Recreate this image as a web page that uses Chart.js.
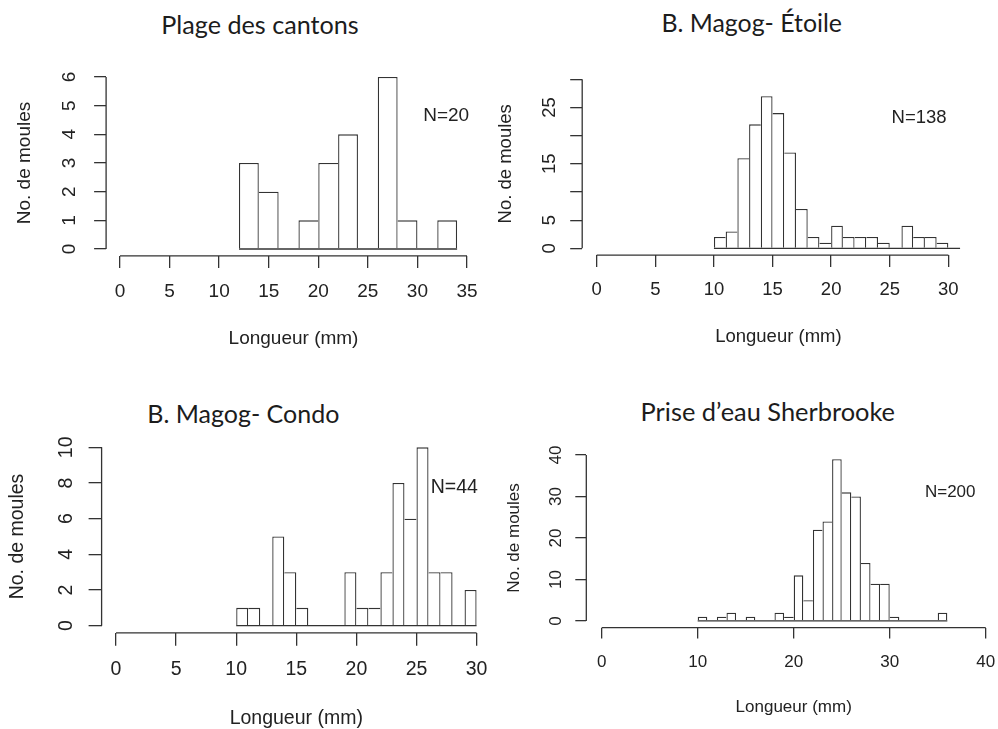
<!DOCTYPE html>
<html>
<head>
<meta charset="utf-8">
<script src="https://cdn.jsdelivr.net/npm/chart.js@4.4.0/dist/chart.umd.min.js"></script>
<style>
    html, body { margin: 0; padding: 0; background: #fff; width: 998px; height: 729px; overflow: hidden; }
    canvas { position: absolute; }
    .titre {
        position: absolute;
        font-family: Lato, "Open Sans", sans-serif;
        font-weight: 400;
        color: #1c1c1c;
        white-space: nowrap;
        line-height: 1;
        transform: translateX(-50%);
    }
</style>
</head>
<body>
<div class="titre" id="t1">Plage des cantons</div>
<div class="titre" id="t2">B. Magog- Étoile</div>
<div class="titre" id="t3">B. Magog- Condo</div>
<div class="titre" id="t4">Prise d’eau Sherbrooke</div>
<canvas id="c1"></canvas>
<canvas id="c2"></canvas>
<canvas id="c3"></canvas>
<canvas id="c4"></canvas>
<script>
// Plage des cantons (classes de 2 mm)
const breaks1 = [12, 14, 16, 18, 20, 22, 24, 26, 28, 30, 32, 34];
const counts1 = [3, 2, 0, 1, 3, 4, 0, 6, 1, 0, 1];
const xTicks1 = [0, 5, 10, 15, 20, 25, 30, 35];
const yTicks1 = [0, 1, 2, 3, 4, 5, 6];
const yLabels1 = ['0', '1', '2', '3', '4', '5', '6'];

// B. Magog- Étoile (classes de 1 mm)
const breaks2 = [10, 11, 12, 13, 14, 15, 16, 17, 18, 19, 20, 21, 22, 23, 24, 25, 26, 27, 28, 29, 30, 31];
const counts2 = [2, 3, 16, 22, 27, 24, 17, 7, 2, 1, 4, 2, 2, 2, 1, 0, 4, 2, 2, 1, 0];
const xTicks2 = [0, 5, 10, 15, 20, 25, 30];
const yTicks2 = [0, 5, 10, 15, 20, 25, 30];
const yLabels2 = ['0', '5', '', '15', '', '25', ''];

// B. Magog- Condo
const breaks3 = [10, 11, 12, 13, 14, 15, 16, 17, 18, 19, 20, 21, 22, 23, 24, 25, 26, 27, 28, 29, 30];
const counts3 = [1, 1, 0, 5, 3, 1, 0, 0, 0, 3, 1, 1, 3, 8, 6, 10, 3, 3, 0, 2];
const xTicks3 = [0, 5, 10, 15, 20, 25, 30];
const yTicks3 = [0, 2, 4, 6, 8, 10];
const yLabels3 = ['0', '2', '4', '6', '8', '10'];

// Prise d'eau Sherbrooke
const breaks4 = [10, 11, 12, 13, 14, 15, 16, 17, 18, 19, 20, 21, 22, 23, 24, 25, 26, 27, 28, 29, 30, 31, 32, 33, 34, 35, 36];
const counts4 = [1, 0, 1, 2, 0, 1, 0, 0, 2, 1, 11, 5, 22, 24, 39, 31, 30, 14, 9, 9, 1, 0, 0, 0, 0, 2];
const xTicks4 = [0, 10, 20, 30, 40];
const yTicks4 = [0, 10, 20, 30, 40];
const yLabels4 = ['0', '10', '20', '30', '40'];

const sampleSizes = ['N=20', 'N=138', 'N=44', 'N=200'];

const INK = '#333';
const TXT = '#222';
const LW = 1.3;
const AXIS_FONT = '"Liberation Sans", Arial, Helvetica, sans-serif';

// mise en page (pixels) de chaque panneau, façon R : region = xlim/ylim +/- 4 %
const panels = [
    { canvas: 'c1', title: 't1', breaks: breaks1, counts: counts1, xTicks: xTicks1, yTicks: yTicks1, yLabels: yLabels1,
      n: sampleSizes[0], nAt: [32.9, 4.65], xlim: [0, 35], ylim: [0, 6],
      area: { left: 106.1, right: 480.9, top: 70.1, bottom: 255.9 },
      font: 19, tick: 12, dTick: 36, dXTitle: 83, dLab: 36, dYTitle: 81,
      tx: 260, tBase: 34.3, tSize: 25.2 },
    { canvas: 'c2', title: 't2', breaks: breaks2, counts: counts2, xTicks: xTicks2, yTicks: yTicks2, yLabels: yLabels2,
      n: sampleSizes[1], nAt: [27.5, 23.1], xlim: [0, 31], ylim: [0, 30],
      area: { left: 582.2, right: 974.6, top: 72.5, bottom: 255.1 },
      font: 18.5, tick: 12, dTick: 35, dXTitle: 81.7, dLab: 32.4, dYTitle: 76.7,
      tx: 751.7, tBase: 32.3, tSize: 24.9 },
    { canvas: 'c3', title: 't3', breaks: breaks3, counts: counts3, xTicks: xTicks3, yTicks: yTicks3, yLabels: yLabels3,
      n: sampleSizes[2], nAt: [28.15, 7.73], xlim: [0, 30], ylim: [0, 10],
      area: { left: 101.6, right: 491.0, top: 440.2, bottom: 632.8 },
      font: 19.5, tick: 13, dTick: 37, dXTitle: 85.5, dLab: 35, dYTitle: 84.4,
      tx: 243.3, tBase: 422.7, tSize: 25 },
    { canvas: 'c4', title: 't4', breaks: breaks4, counts: counts4, xTicks: xTicks4, yTicks: yTicks4, yLabels: yLabels4,
      n: sampleSizes[3], nAt: [36.3, 30.9], xlim: [0, 40], ylim: [0, 40],
      area: { left: 586.3, right: 1001.1, top: 448.4, bottom: 627.6 },
      font: 17, tick: 11, dTick: 34.7, dXTitle: 79.7, dLab: 30.3, dYTitle: 72,
      tx: 767.8, tBase: 421.7, tSize: 25.4 }
];

// une seule ligne par arête partagée : la plus haute des deux barres la trace
function edgeWidths(counts) {
    return counts.map((v, i) => {
        const prev = i > 0 ? counts[i - 1] : 0;
        const next = i < counts.length - 1 ? counts[i + 1] : 0;
        return { top: LW, bottom: 0, left: (i === 0 || prev < v) ? LW : 0, right: next > v ? 0 : LW };
    });
}

// axes "R" : traits limités aux graduations, étiquettes Y verticales, texte N=
function rAxes(p) {
    return {
        id: 'rAxes',
        afterDraw(chart) {
            const { ctx, chartArea: a, scales: { x, y } } = chart;
            ctx.save();
            ctx.strokeStyle = INK;
            ctx.lineWidth = LW;
            ctx.beginPath();
            ctx.moveTo(x.getPixelForValue(p.xTicks[0]), a.bottom);
            ctx.lineTo(x.getPixelForValue(p.xTicks[p.xTicks.length - 1]), a.bottom);
            ctx.moveTo(a.left, y.getPixelForValue(p.yTicks[0]));
            ctx.lineTo(a.left, y.getPixelForValue(p.yTicks[p.yTicks.length - 1]));
            ctx.stroke();

            ctx.fillStyle = TXT;
            ctx.font = p.font + 'px ' + AXIS_FONT;
            ctx.textAlign = 'center';
            ctx.textBaseline = 'middle';
            p.yTicks.forEach((v, i) => {
                if (!p.yLabels[i]) return;
                ctx.save();
                ctx.translate(a.left - p.dLab, y.getPixelForValue(v));
                ctx.rotate(-Math.PI / 2);
                ctx.fillText(p.yLabels[i], 0, 0);
                ctx.restore();
            });
            ctx.fillText(p.n, x.getPixelForValue(p.nAt[0]), y.getPixelForValue(p.nAt[1]));
            ctx.restore();
        }
    };
}

const YW = 100, XH = 100, TOP = 20;

panels.forEach(p => {
    const a = p.area;
    const L = Math.round(a.left - YW);
    const T = Math.round(a.top - TOP);
    const W = Math.ceil(a.right - L);
    const H = Math.ceil(a.bottom + XH - T);
    const yw = a.left - L;
    const padTop = a.top - T;
    const padRight = L + W - a.right;
    const padBottom = T + H - (a.bottom + XH);

    const cv = document.getElementById(p.canvas);
    cv.width = W; cv.height = H;
    cv.style.left = L + 'px'; cv.style.top = T + 'px';
    cv.style.width = W + 'px'; cv.style.height = H + 'px';

    const t = document.getElementById(p.title);
    t.style.fontSize = p.tSize + 'px';
    t.style.left = p.tx + 'px';
    t.style.top = (p.tBase - 0.887 * p.tSize) + 'px';

    const lh = p.font * 1.2;
    const xr = (p.xlim[1] - p.xlim[0]) * 0.04;
    const yr = (p.ylim[1] - p.ylim[0]) * 0.04;
    const bars = p.counts.map((c, i) => ({ x: (p.breaks[i] + p.breaks[i + 1]) / 2, y: c }));
    const edges = edgeWidths(p.counts);

    new Chart(cv, {
        type: 'bar',
        data: {
            datasets: [{
                type: 'line',
                data: [{ x: p.breaks[0], y: 0 }, { x: p.breaks[p.breaks.length - 1], y: 0 }],
                borderColor: INK,
                borderWidth: LW,
                pointRadius: 0,
                order: 1
            }, {
                type: 'bar',
                data: bars,
                backgroundColor: '#fff',
                borderColor: INK,
                borderWidth: c => edges[c.dataIndex],
                borderSkipped: false,
                barPercentage: 1,
                categoryPercentage: 1,
                inflateAmount: 0,
                order: 2
            }]
        },
        options: {
            responsive: false,
            animation: false,
            events: [],
            layout: { padding: { top: padTop, right: padRight, bottom: padBottom, left: 0 } },
            plugins: { legend: { display: false }, tooltip: { enabled: false } },
            scales: {
                x: {
                    type: 'linear',
                    min: p.xlim[0] - xr,
                    max: p.xlim[1] + xr,
                    offset: false,
                    afterBuildTicks: s => { s.ticks = p.xTicks.map(v => ({ value: v })); },
                    afterFit: s => { s.height = XH; s.paddingLeft = 0; s.paddingRight = 0; },
                    border: { display: false },
                    grid: { offset: false, drawOnChartArea: false, drawTicks: true, tickLength: p.tick, color: INK, lineWidth: LW },
                    ticks: {
                        autoSkip: false, maxRotation: 0, color: TXT,
                        padding: p.dTick - p.tick - lh / 2,
                        font: { family: AXIS_FONT, size: p.font },
                        callback: v => String(v)
                    },
                    title: {
                        display: true, text: 'Longueur (mm)', color: TXT,
                        font: { family: AXIS_FONT, size: p.font },
                        padding: { top: 0, bottom: XH - p.dXTitle - lh / 2 }
                    }
                },
                y: {
                    type: 'linear',
                    min: p.ylim[0] - yr,
                    max: p.ylim[1] + yr,
                    afterBuildTicks: s => { s.ticks = p.yTicks.map(v => ({ value: v })); },
                    afterFit: s => { s.width = yw; s.paddingTop = 0; s.paddingBottom = 0; },
                    border: { display: false },
                    grid: { drawOnChartArea: false, drawTicks: true, tickLength: p.tick, color: INK, lineWidth: LW },
                    ticks: { display: false },
                    title: {
                        display: true, text: 'No. de moules', color: TXT,
                        font: { family: AXIS_FONT, size: p.font },
                        padding: { top: yw - p.dYTitle - lh / 2, bottom: 0 }
                    }
                }
            }
        },
        plugins: [rAxes(p)]
    });
});
</script>
</body>
</html>
